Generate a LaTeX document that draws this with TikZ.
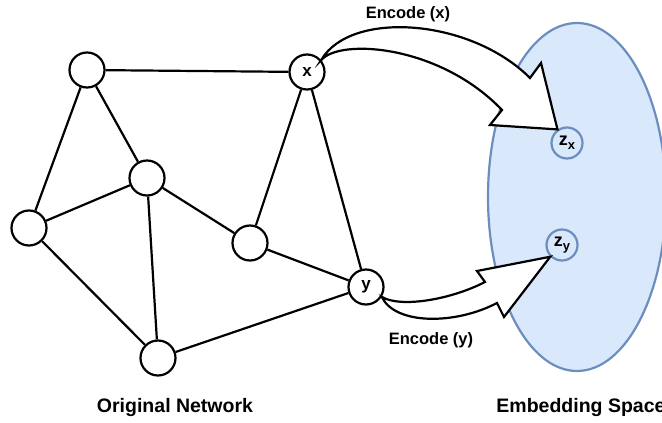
\documentclass[tikz,border=0pt]{standalone}
\usepackage{fontspec}
\setmainfont{Liberation Sans}
\usepackage{xcolor}
\usepackage{tikz}
\usetikzlibrary{calc}
\definecolor{embfill}{HTML}{DAE8FC}
\definecolor{embline}{HTML}{6C8EBF}

\begin{document}
\begin{tikzpicture}[x=1pt,y=-1pt,
  vertex/.style={circle,draw=black,line width=2.2pt,fill=white,minimum size=35pt,inner sep=0pt,font=\bfseries\fontsize{17}{17}\selectfont},
  embed/.style={circle,draw=embline,line width=2.2pt,minimum size=31pt,inner sep=0pt,font=\bfseries\fontsize{18}{18}\selectfont},
  link/.style={line width=2.2pt},
  flex/.style={draw=black,fill=white,line width=2.2pt,line join=miter},
  caption/.style={font=\bfseries\fontsize{19.5}{20}\selectfont,anchor=base},
  tag/.style={font=\bfseries\fontsize{16.5}{17}\selectfont,anchor=base}]
\useasboundingbox (0,0) rectangle (662,423);

% embedding space
\draw[embline,fill=embfill,line width=2.2pt] (577,197) ellipse [x radius=89,y radius=174];
\node[embed] (zx) at (567,143) {z\raisebox{-0.45ex}{\fontsize{13}{13}\selectfont x}};
\node[embed] (zy) at (562,245) {z\raisebox{-0.45ex}{\fontsize{13}{13}\selectfont y}};

% original network
\node[vertex] (a) at (87,70) {};
\node[vertex] (x) at (307,72) {x};
\node[vertex] (c) at (147,178) {};
\node[vertex] (d) at (29,228) {};
\node[vertex] (e) at (250,243) {};
\node[vertex] (y) at (366,287) {y};
\node[vertex] (f) at (158,358) {};

\draw[link] (a) -- (x) (a) -- (d) (a) -- (c) (d) -- (c) (d) -- (f)
  (c) -- (f) (c) -- (e) (e) -- (x) (x) -- (y) (e) -- (y) (f) -- (y);

% encoder arrows
\draw[flex] (x.40) .. controls (350,10) and (470,18) .. (530,78) -- (541,63)
  -- (zx.125) -- (490,125) -- (502,110) .. controls (440,45) and (340,38) .. (x.40) -- cycle;
\draw[flex] (y.-32) .. controls (400,308) and (450,300) .. (485,282) -- (477,271)
  -- (zy.225) -- (504,317) -- (497,303) .. controls (455,325) and (395,325) .. (y.-32) -- cycle;

\node[tag] (encx) at (408,19) {Encode (x)};
\node[tag] (ency) at (431,344) {Encode (y)};
\node[caption] (orig) at (175,412) {Original Network};
\node[caption] (emb) at (581,412) {Embedding Space};
\end{tikzpicture}
\end{document}
